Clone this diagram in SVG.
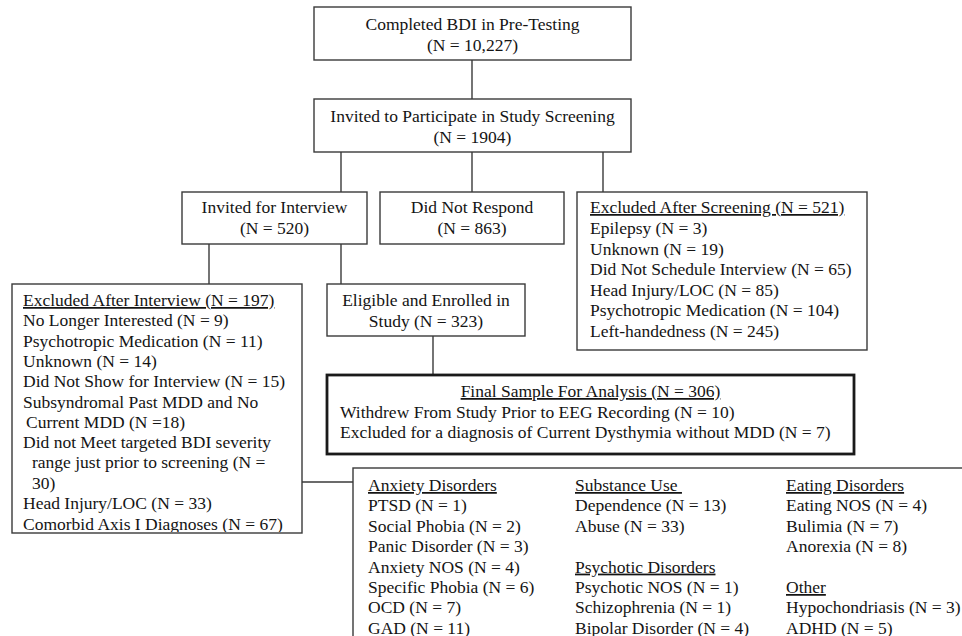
<svg xmlns="http://www.w3.org/2000/svg" width="962" height="636" viewBox="0 0 962 636">
<style>
text{font-family:"Liberation Serif","Times New Roman",serif;font-size:17.5px;fill:#141414}
.c{text-anchor:middle}
.u{text-decoration:underline}
.box{fill:#fff;stroke:#3a3a3a;stroke-width:1.4}
.bold{fill:#fff;stroke:#1a1a1a;stroke-width:2.8}
.ln{stroke:#3a3a3a;stroke-width:1.4;fill:none}
</style>
<defs>
<clipPath id="clipL"><rect x="12" y="284" width="290" height="248"/></clipPath>
</defs>
<rect width="962" height="636" fill="#fff"/>
<g id="connectors">
<line class="ln" x1="472" y1="60" x2="472" y2="99"/>
<line class="ln" x1="341" y1="152" x2="341" y2="192"/>
<line class="ln" x1="472" y1="152" x2="472" y2="192"/>
<line class="ln" x1="603" y1="152" x2="603" y2="192"/>
<line class="ln" x1="209" y1="244" x2="209" y2="284"/>
<line class="ln" x1="341" y1="244" x2="341" y2="284"/>
<line class="ln" x1="433" y1="336" x2="433" y2="375"/>
<line class="ln" x1="302" y1="482" x2="353" y2="482"/>
</g>
<g id="n-completed">
<rect class="box" x="314" y="7" width="317" height="53"/>
<text class="c" x="472.5" y="30">Completed BDI in Pre-Testing</text>
<text class="c" x="472.5" y="51">(N = 10,227)</text>
</g>
<g id="n-invited-screening">
<rect class="box" x="314" y="99" width="317" height="53"/>
<text class="c" x="472.5" y="122">Invited to Participate in Study Screening</text>
<text class="c" x="472.5" y="143">(N = 1904)</text>
</g>
<g id="n-invited-interview">
<rect class="box" x="182" y="192" width="185" height="52"/>
<text class="c" x="274.5" y="213">Invited for Interview</text>
<text class="c" x="274.5" y="234">(N = 520)</text>
</g>
<g id="n-did-not-respond">
<rect class="box" x="380" y="192" width="184" height="52"/>
<text class="c" x="472" y="213">Did Not Respond</text>
<text class="c" x="472" y="234">(N = 863)</text>
</g>
<g id="n-excluded-screening">
<rect class="box" x="577" y="192" width="290" height="158"/>
<text class="u" x="590" y="213">Excluded After Screening (N = 521)</text>
<text x="590" y="234">Epilepsy (N = 3)</text>
<text x="590" y="254.5">Unknown (N = 19)</text>
<text x="590" y="275">Did Not Schedule Interview (N = 65)</text>
<text x="590" y="295.5">Head Injury/LOC (N = 85)</text>
<text x="590" y="316">Psychotropic Medication (N = 104)</text>
<text x="590" y="336.5">Left-handedness (N = 245)</text>
</g>
<g id="n-excluded-interview">
<rect class="box" x="12" y="284" width="290" height="249"/>
<g clip-path="url(#clipL)">
<text class="u" x="23" y="306">Excluded After Interview (N = 197)</text>
<text x="23" y="326.3">No Longer Interested (N = 9)</text>
<text x="23" y="346.6">Psychotropic Medication (N = 11)</text>
<text x="23" y="366.9">Unknown (N = 14)</text>
<text x="23" y="387.2">Did Not Show for Interview (N = 15)</text>
<text x="23" y="407.5">Subsyndromal Past MDD and No</text>
<text x="26" y="427.8">Current MDD (N =18)</text>
<text x="23" y="448.1">Did not Meet targeted BDI severity</text>
<text x="32" y="468.4">range just prior to screening (N =</text>
<text x="32" y="488.7">30)</text>
<text x="23" y="509">Head Injury/LOC (N = 33)</text>
<text x="23" y="529.5">Comorbid Axis I Diagnoses (N = 67)</text>
</g>
</g>
<g id="n-eligible">
<rect class="box" x="327" y="284" width="198" height="52"/>
<text class="c" x="426" y="306">Eligible and Enrolled in</text>
<text class="c" x="426" y="327">Study (N = 323)</text>
</g>
<g id="n-final">
<rect class="bold" x="327" y="375" width="527" height="79"/>
<text class="c u" x="590.5" y="397">Final Sample For Analysis (N = 306)</text>
<text x="340" y="418">Withdrew From Study Prior to EEG Recording (N = 10)</text>
<text x="340" y="438">Excluded for a diagnosis of Current Dysthymia without MDD (N = 7)</text>
</g>
<g id="n-comorbid">
<rect class="box" x="353" y="468" width="640" height="200"/>
<text class="u" x="368" y="491">Anxiety Disorders</text>
<text x="368" y="511.4">PTSD (N = 1)</text>
<text x="368" y="531.8">Social Phobia (N = 2)</text>
<text x="368" y="552.2">Panic Disorder (N = 3)</text>
<text x="368" y="572.6">Anxiety NOS (N = 4)</text>
<text x="368" y="593">Specific Phobia (N = 6)</text>
<text x="368" y="613.4">OCD (N = 7)</text>
<text x="368" y="633.8">GAD (N = 11)</text>
<text class="u" x="575" y="491" style="white-space:pre">Substance Use </text>
<text x="575" y="511.4">Dependence (N = 13)</text>
<text x="575" y="531.8">Abuse (N = 33)</text>
<text class="u" x="575" y="572.6">Psychotic Disorders</text>
<text x="575" y="593">Psychotic NOS (N = 1)</text>
<text x="575" y="613.4">Schizophrenia (N = 1)</text>
<text x="575" y="633.8">Bipolar Disorder (N = 4)</text>
<text class="u" x="786" y="491">Eating Disorders</text>
<text x="786" y="511.4">Eating NOS (N = 4)</text>
<text x="786" y="531.8">Bulimia (N = 7)</text>
<text x="786" y="552.2">Anorexia (N = 8)</text>
<text class="u" x="786" y="593">Other</text>
<text x="786" y="613.4">Hypochondriasis (N = 3)</text>
<text x="786" y="633.8">ADHD (N = 5)</text>
</g>
</svg>
